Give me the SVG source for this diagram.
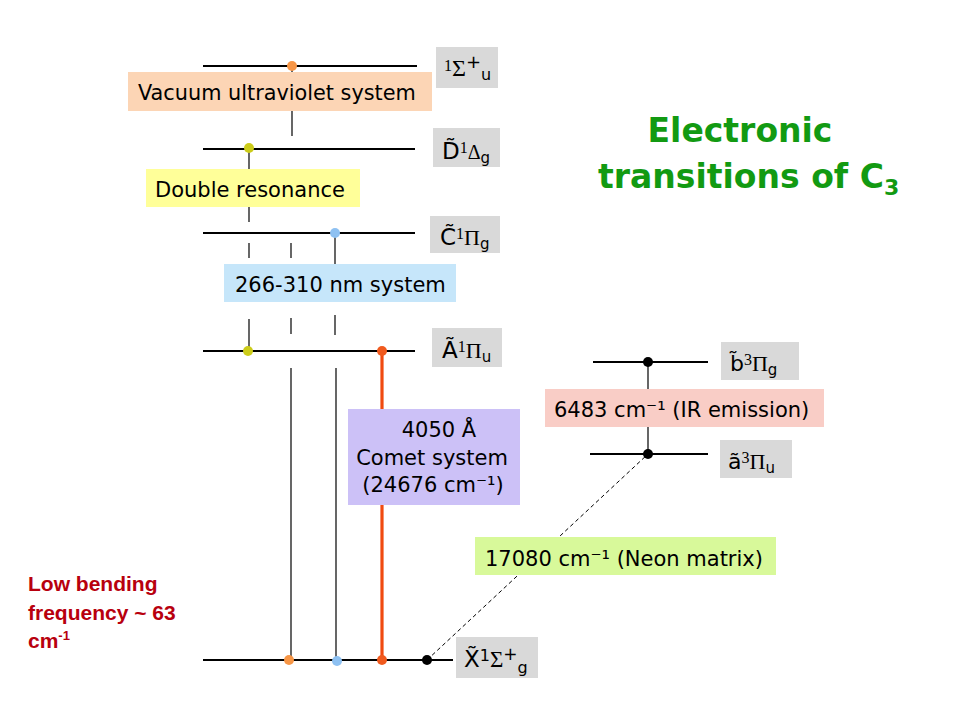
<svg xmlns="http://www.w3.org/2000/svg" width="960" height="720" viewBox="0 0 960 720">
<style>
.lvl{stroke:#000;stroke-width:2;fill:none}
.vl{stroke:#000;stroke-width:1.2;fill:none}
.t{font-family:"DejaVu Sans",Verdana,sans-serif;fill:#000}
.sym{font-family:"Liberation Serif","Times New Roman",serif;fill:#000}
.gbox{fill:#d9d9d9}
</style>
<rect width="960" height="720" fill="#fff"/>
<g id="connectors">
  <line class="vl" x1="292" y1="66" x2="292" y2="136"/>
  <line class="vl" x1="291" y1="243" x2="291" y2="258"/>
  <line class="vl" x1="291" y1="318" x2="291" y2="334"/>
  <line class="vl" x1="291" y1="368" x2="291" y2="660"/>
  <line class="vl" x1="249" y1="149" x2="249" y2="222"/>
  <line class="vl" x1="249" y1="243" x2="249" y2="258"/>
  <line class="vl" x1="249" y1="319" x2="249" y2="351"/>
  <line class="vl" x1="335" y1="233" x2="335" y2="280"/>
  <line class="vl" x1="335" y1="315" x2="335" y2="335"/>
  <line class="vl" x1="336" y1="368" x2="336" y2="660"/>
  <line x1="382" y1="351" x2="382" y2="660" stroke="#f04a10" stroke-width="3.2"/>
  <line class="vl" x1="648" y1="362" x2="648" y2="454"/>
  <line x1="427" y1="660" x2="648" y2="454" stroke="#000" stroke-width="1" stroke-dasharray="4,3"/>
</g>
<g id="levels">
  <line class="lvl" x1="203" y1="66" x2="417" y2="66"/>
  <line class="lvl" x1="203" y1="149" x2="415" y2="149"/>
  <line class="lvl" x1="203" y1="233" x2="415" y2="233"/>
  <line class="lvl" x1="203" y1="351" x2="415" y2="351"/>
  <line class="lvl" x1="203" y1="660" x2="453" y2="660"/>
  <line class="lvl" x1="593" y1="362" x2="708" y2="362"/>
  <line class="lvl" x1="590" y1="454" x2="708" y2="454"/>
</g>
<g id="dots">
  <circle cx="292" cy="66" r="5" fill="#f79646"/>
  <circle cx="249" cy="148" r="5" fill="#cccc1a"/>
  <circle cx="335" cy="233" r="5" fill="#8ec1f2"/>
  <circle cx="248" cy="351" r="5" fill="#cccc1a"/>
  <circle cx="382" cy="351" r="5" fill="#f05a1e"/>
  <circle cx="289" cy="660" r="5" fill="#f79646"/>
  <circle cx="337" cy="661" r="5" fill="#8ec1f2"/>
  <circle cx="382" cy="660" r="5" fill="#f05a1e"/>
  <circle cx="427" cy="660" r="5" fill="#000"/>
  <circle cx="648" cy="362" r="5" fill="#000"/>
  <circle cx="648" cy="454" r="5" fill="#000"/>
</g>
<g id="vuv">
  <rect x="128" y="72" width="304" height="39" fill="#fcd5b5"/>
  <text class="t" x="138" y="100" font-size="20.8">Vacuum ultraviolet system</text>
</g>
<g id="double-resonance">
  <rect x="146" y="169" width="214" height="38" fill="#ffff99"/>
  <text class="t" x="155" y="197" font-size="21">Double resonance</text>
</g>
<g id="nm-system">
  <rect x="224" y="264" width="232" height="38" fill="#c6e6fa"/>
  <text class="t" x="235" y="292" font-size="21">266-310 nm system</text>
</g>
<g id="comet">
  <rect x="348" y="409" width="172" height="96" fill="#ccc1f7"/>
  <text class="t" x="439" y="437" font-size="21" text-anchor="middle">4050 Å</text>
  <text class="t" x="432" y="465" font-size="21" text-anchor="middle">Comet system</text>
  <text class="t" x="433" y="492" font-size="21" text-anchor="middle">(24676 cm⁻¹)</text>
</g>
<g id="ir">
  <rect x="545" y="389" width="279" height="38" fill="#f9cdc6"/>
  <text class="t" x="554" y="417" font-size="21">6483 cm⁻¹ (IR emission)</text>
</g>
<g id="neon">
  <rect x="475" y="537" width="301" height="38" fill="#d8f99a"/>
  <text class="t" x="485" y="566" font-size="21">17080 cm⁻¹ (Neon matrix)</text>
</g>
<g id="state-1Su">
  <rect class="gbox" x="436" y="47" width="62" height="41"/>
  <text x="444" y="76"><tspan class="sym" font-size="16" dy="-5">1</tspan><tspan class="sym" font-size="24" dy="5">Σ</tspan><tspan class="t" font-size="18" dy="-8">+</tspan><tspan class="t" font-size="16" dy="12">u</tspan></text>
</g>
<g id="state-D">
  <rect class="gbox" x="433" y="128" width="67" height="39"/>
  <text x="442" y="159"><tspan class="t" font-size="23">D̃</tspan><tspan class="sym" font-size="16" dy="-6">1</tspan><tspan class="sym" font-size="20" dy="6">Δ</tspan><tspan class="t" font-size="15" dy="4">g</tspan></text>
</g>
<g id="state-C">
  <rect class="gbox" x="430" y="216" width="70" height="37"/>
  <text x="440" y="245"><tspan class="t" font-size="23">C̃</tspan><tspan class="sym" font-size="16" dy="-6">1</tspan><tspan class="sym" font-size="22" dy="6">Π</tspan><tspan class="t" font-size="15" dy="4">g</tspan></text>
</g>
<g id="state-A">
  <rect class="gbox" x="432" y="328" width="70" height="39"/>
  <text x="442" y="358"><tspan class="t" font-size="23">Ã</tspan><tspan class="sym" font-size="16" dy="-6">1</tspan><tspan class="sym" font-size="22" dy="6">Π</tspan><tspan class="t" font-size="15" dy="4">u</tspan></text>
</g>
<g id="state-b">
  <rect class="gbox" x="721" y="342" width="78" height="38"/>
  <text x="730" y="371"><tspan class="t" font-size="22">b̃</tspan><tspan class="sym" font-size="16" dy="-6">3</tspan><tspan class="sym" font-size="22" dy="6">Π</tspan><tspan class="t" font-size="15" dy="4">g</tspan></text>
</g>
<g id="state-a">
  <rect class="gbox" x="720" y="440" width="72" height="38"/>
  <text x="728" y="469"><tspan class="t" font-size="22">ã</tspan><tspan class="sym" font-size="16" dy="-6">3</tspan><tspan class="sym" font-size="22" dy="6">Π</tspan><tspan class="t" font-size="15" dy="4">u</tspan></text>
</g>
<g id="state-X">
  <rect class="gbox" x="456" y="637" width="82" height="41"/>
  <text x="464" y="667"><tspan class="t" font-size="23">X̃</tspan><tspan class="t" font-size="16" dy="-6">1</tspan><tspan class="sym" font-size="23" dy="6">Σ</tspan><tspan class="t" font-size="17" dy="-7">+</tspan><tspan class="t" font-size="16" dy="13">g</tspan></text>
</g>
<g id="title" font-family="'DejaVu Sans',Verdana,sans-serif" font-weight="bold" fill="#129a12">
  <text x="740" y="142" font-size="33" text-anchor="middle">Electronic</text>
  <text x="598" y="188" font-size="33">transitions of C<tspan font-size="22" dy="7">3</tspan></text>
</g>
<g id="note" font-family="'Liberation Sans',Arial,sans-serif" font-weight="bold" font-size="21" fill="#b8000e">
  <text x="28" y="591">Low bending</text>
  <text x="28" y="620">frequency ~ 63</text>
  <text x="28" y="648">cm<tspan font-size="13" dy="-8">-1</tspan></text>
</g>
</svg>
